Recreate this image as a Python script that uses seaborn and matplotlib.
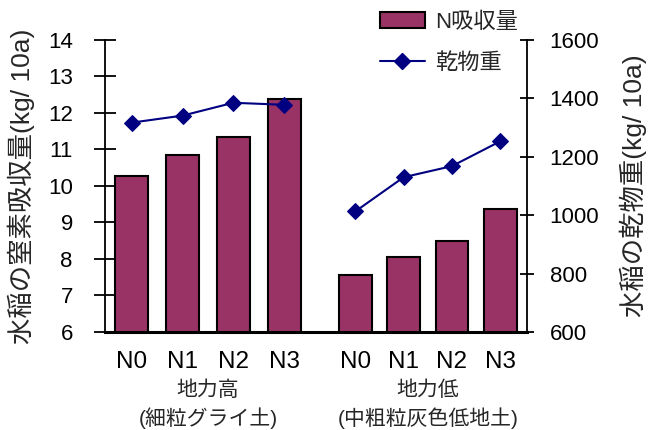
'''rice N uptake (bars) and dry matter (line), two soil fertility groups'''
import numpy as np
import pandas as pd
import seaborn as sns
import matplotlib.pyplot as plt
from matplotlib import transforms
from matplotlib.patches import Patch
from matplotlib.lines import Line2D

#region data
levels = ['N0', 'N1', 'N2', 'N3']
groups = ['地力高', '地力低']
group_notes = ['(細粒グライ土)', '(中粗粒灰色低地土)']
n_uptake_high = [10.28, 10.85, 11.35, 12.38]
n_uptake_low = [7.57, 8.05, 8.50, 9.38]
dry_matter_high = [1317, 1341, 1385, 1378]
dry_matter_low = [1013, 1130, 1168, 1253]
#endregion

BAR_COLOR = '#993366'
LINE_COLOR = '#000080'
GROUP2_START = 4.4   # x offset of the second group
GROUP2_STEP = 0.95

sns.set_theme(style='white')
plt.rcParams['font.family'] = ['Liberation Sans', 'Noto Sans CJK JP', 'DejaVu Sans']
plt.rcParams['font.size'] = 16

pos = np.concatenate([np.arange(4), GROUP2_START + GROUP2_STEP * np.arange(4)])
df = pd.DataFrame({
    'pos': pos,
    'level': levels * 2,
    'group': [groups[0]] * 4 + [groups[1]] * 4,
    'uptake': n_uptake_high + n_uptake_low,
    'dry': dry_matter_high + dry_matter_low,
})

fig = plt.figure(figsize=(6.51, 4.30), dpi=100)
ax = fig.add_axes([0.161, 0.228, 0.648, 0.679])

sns.barplot(data=df, x='pos', y='uptake', native_scale=True, width=0.68,
            color=BAR_COLOR, saturation=1, edgecolor='black', linewidth=1.5,
            ax=ax, errorbar=None)
ax.set_ylim(6, 14)
ax.set_yticks(range(6, 15))
ax.set_xlim(pos[0] - 0.53, pos[-1] + 0.52)
ax.set_xticks(pos, levels * 2)
ax.set_xlabel('')
ax.set_ylabel('水稲の窒素吸収量(kg/ 10a)', fontsize=19, labelpad=9)

ax2 = ax.twinx()
sns.lineplot(data=df, x='pos', y='dry', hue='group', palette=[LINE_COLOR, LINE_COLOR],
             marker='D', markersize=8, markeredgecolor=LINE_COLOR, linewidth=1.5,
             legend=False, ax=ax2)
ax2.set_ylim(600, 1600)
ax2.set_yticks(range(600, 1601, 200))
ax2.set_ylabel('水稲の乾物重(kg/ 10a)', fontsize=19, labelpad=15)

for a in (ax, ax2):
    for s in a.spines.values():
        s.set_visible(False)
ax.spines['left'].set_visible(True)
ax.spines['bottom'].set_visible(True)
ax2.spines['right'].set_visible(True)
ax.spines['left'].set_linewidth(1.3)
ax.spines['bottom'].set_linewidth(2.2)
ax2.spines['right'].set_linewidth(1.3)
for s in (ax.spines['left'], ax.spines['bottom'], ax2.spines['right']):
    s.set_color('black')

ax.tick_params(axis='y', direction='inout', length=16, width=1.3, left=True,
               labelsize=16, pad=15, colors='black')
ax.tick_params(axis='x', length=0, labelsize=17.5, pad=14, colors='black')
ax2.tick_params(axis='y', direction='inout', length=10, width=1.3, right=True,
                labelsize=16, pad=11.5, colors='black')

# group captions under the tick labels
trans = transforms.blended_transform_factory(ax.transData, ax.transAxes)
for i, (g, note) in enumerate(zip(groups, group_notes)):
    cx = pos[i * 4:(i + 1) * 4].mean()
    ax.text(cx, -0.198, g, transform=trans, ha='center', va='center', fontsize=15)
    ax.text(cx, -0.294, note, transform=trans, ha='center', va='center', fontsize=15)

handles = [Patch(facecolor=BAR_COLOR, edgecolor='black', linewidth=1.5),
           Line2D([0], [0], color=LINE_COLOR, marker='D', markersize=8, linewidth=1.5)]
fig.legend(handles, ['N吸収量', '乾物重'], loc='upper left',
           bbox_to_anchor=(0.584, 0.972), frameon=False, fontsize=16,
           handlelength=2.0, handletextpad=0.45, labelspacing=0.9,
           borderaxespad=0, borderpad=0)

fig.savefig('out.png', dpi=100)
